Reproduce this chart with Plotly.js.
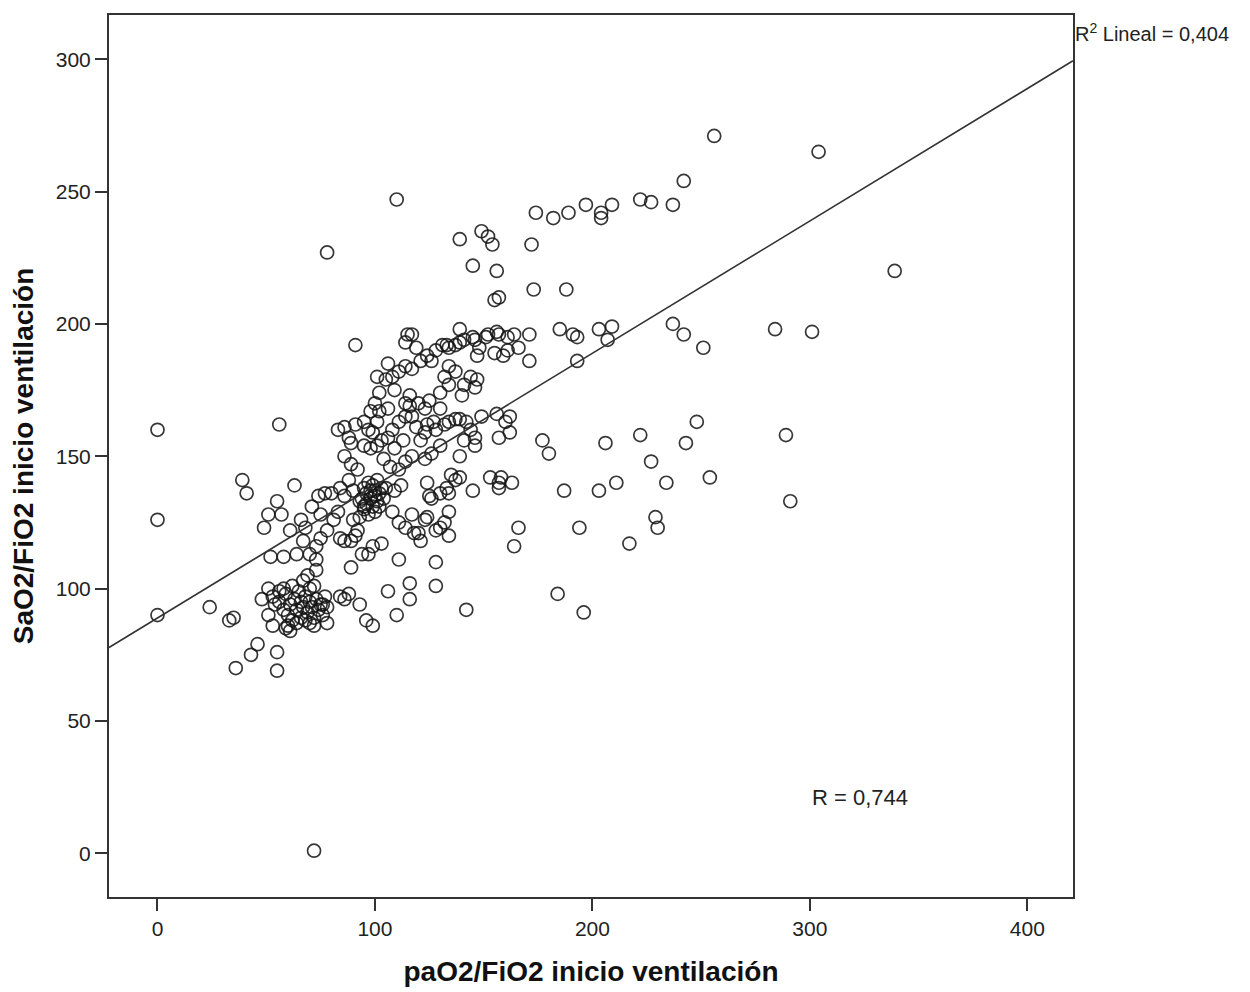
<!DOCTYPE html>
<html>
<head>
<meta charset="utf-8">
<script src="https://cdn.plot.ly/plotly-3.0.1.min.js"></script>
<style>html,body{margin:0;padding:0;background:#fff;}#chart{width:1250px;height:992px;}</style>
</head>
<body>
<div id="chart"></div>
<script>
// paO2/FiO2 (x) and SaO2/FiO2 (y) values
const paO2 = [
  // sparse / outliers
  0,0,0,24,33,35,36,39,41,43,46,48,49,51,52,55,55,56,55,57,63,61,72,78,110,91,
  // upper band
  139,145,149,152,154,156,157,155,172,174,182,189,197,204,204,209,222,227,237,242,256,304,339,173,188,
  // right upper
  185,191,193,193,203,207,209,237,242,251,284,301,
  // lower right
  248,243,222,206,227,234,211,254,203,187,177,180,229,230,194,217,164,166,163,157,153,184,196,289,291,
  // near line
  162,160,162,157,156,149,
  // low dense cluster
  53,56,58,59,60,61,62,63,64,65,66,66,67,68,69,70,70,71,72,73,74,75,76,77,78,60,64,68,72,58,62,70,
  // around low cluster
  51,56,54,51,53,59,61,78,76,84,86,88,93,96,99,106,110,116,128,142,89,94,97,103,99,111,116,128,58,64,
  // rising column
  66,68,67,70,73,73,69,67,72,73,75,78,75,71,74,77,80,84,86,83,81,84,86,89,91,93,92,90,
  // dense cluster near 100/136
  94,95,96,96,97,98,98,99,99,100,100,101,101,102,103,97,95,100,102,104,
  // right of dense cluster
  105,109,112,108,111,114,118,121,117,123,126,130,133,134,137,139,134,132,128,134,145,139,141,146,146,
  // middle band
  83,86,88,89,91,86,89,92,88,90,93,95,98,99,101,102,103,106,108,111,114,116,117,119,121,123,124,127,128,130,132,134,137,139,142,144,126,123,117,114,111,107,104,101,116,120,114,106,95,97,109,113,
  // upper-middle band
  115,117,119,114,117,114,111,108,105,101,106,109,102,100,98,95,121,124,126,128,131,133,134,137,139,141,139,145,146,148,147,151,152,156,157,161,164,166,171,171,159,147,146,144,141,132,134,137,130,134,140,125,123,130,155,161,
  // extra
  135,124,125,124,130,120,158,157
];
const saO2 = [
  160,126,90,93,88,89,70,141,136,75,79,96,123,128,112,76,69,162,133,128,139,122,1,227,247,192,
  232,222,235,233,230,220,210,209,230,242,240,242,245,242,240,245,247,246,245,254,271,265,220,213,213,
  198,196,186,195,198,194,199,200,196,191,198,197,
  163,155,158,155,148,140,140,142,137,137,156,151,127,123,123,117,116,123,140,140,142,98,91,158,133,
  165,163,159,157,166,165,
  97,95,92,98,90,94,88,96,92,99,89,95,93,97,91,87,95,93,89,96,92,94,90,97,93,86,87,88,86,100,101,100,
  100,99,94,90,86,85,84,87,94,97,96,98,94,88,86,99,90,96,101,92,108,113,113,117,116,111,102,110,112,113,
  126,123,118,113,111,107,105,103,101,116,119,122,128,131,135,136,136,138,135,129,126,119,118,118,120,127,122,126,
  134,138,132,136,140,134,137,131,139,135,137,133,141,136,138,128,130,129,131,134,
  138,137,139,129,125,123,121,118,128,126,134,136,138,136,141,142,129,125,122,120,137,150,156,157,154,
  160,161,157,155,162,150,147,145,141,137,133,131,153,159,163,167,156,157,160,163,165,169,165,161,156,159,162,163,160,154,162,163,164,164,163,160,151,149,150,148,145,146,149,154,173,170,170,168,154,160,153,156,
  196,196,191,193,183,184,182,180,179,180,185,175,174,170,167,163,186,188,186,190,192,192,191,192,193,194,198,195,194,191,188,195,196,197,196,195,196,191,196,186,188,179,176,180,177,180,184,182,174,177,173,171,168,168,189,190,
  143,140,135,127,123,121,142,138
];

// linear fit
const fitIntercept = 88.9;
const fitSlope = 0.5;
const xRange = [-22.3, 421];
const yRange = [-16.5, 316.7];
const xTicks = [0, 100, 200, 300, 400];
const yTicks = [0, 50, 100, 150, 200, 250, 300];
const fitX = xRange.slice();
const fitY = fitX.map(v => fitIntercept + fitSlope * v);

const axisFont = {family: 'Liberation Sans, Arial, sans-serif', size: 21, color: '#222'};
const titleFont = {family: 'Liberation Sans, Arial, sans-serif', size: 28, color: '#111', weight: 'bold'};

const traces = [
  {
    x: paO2, y: saO2, type: 'scatter', mode: 'markers',
    marker: {symbol: 'circle-open', size: 13, color: 'rgba(20,20,20,0.85)', line: {width: 1.7}},
    hoverinfo: 'x+y', showlegend: false
  },
  {
    x: fitX, y: fitY, type: 'scatter', mode: 'lines',
    line: {color: '#333', width: 1.6}, hoverinfo: 'skip', showlegend: false
  }
];

const layout = {
  width: 1250, height: 992,
  margin: {l: 109, r: 177, t: 15, b: 95},
  paper_bgcolor: '#fff', plot_bgcolor: '#fff',
  showlegend: false,
  xaxis: {
    range: xRange, tickvals: xTicks, ticktext: xTicks.map(String),
    showgrid: false, zeroline: false, showline: true, mirror: true,
    linecolor: '#333', linewidth: 2, ticks: 'outside', ticklen: 12, tickwidth: 2, tickcolor: '#333',
    tickfont: axisFont,
    title: {text: '<b>paO2/FiO2 inicio ventilación</b>', font: titleFont, standoff: 22}
  },
  yaxis: {
    range: yRange, tickvals: yTicks, ticktext: yTicks.map(String),
    showgrid: false, zeroline: false, showline: true, mirror: true,
    linecolor: '#333', linewidth: 2, ticks: 'outside', ticklen: 12, tickwidth: 2, tickcolor: '#333',
    tickfont: axisFont,
    title: {text: '<b>SaO2/FiO2 inicio ventilación</b>', font: titleFont, standoff: 14}
  },
  annotations: [
    {
      text: 'R<sup>2</sup> Lineal = 0,404', xref: 'paper', yref: 'paper',
      x: 1.0, y: 0.98, xanchor: 'left', yanchor: 'middle', showarrow: false,
      font: {family: 'Liberation Sans, Arial, sans-serif', size: 20, color: '#222'}
    },
    {
      text: 'R = 0,744', xref: 'x', yref: 'y',
      x: 323, y: 21, xanchor: 'center', yanchor: 'middle', showarrow: false,
      font: {family: 'Liberation Sans, Arial, sans-serif', size: 22, color: '#222'}
    }
  ]
};

Plotly.newPlot('chart', traces, layout, {displayModeBar: false, staticPlot: true});
</script>
</body>
</html>
